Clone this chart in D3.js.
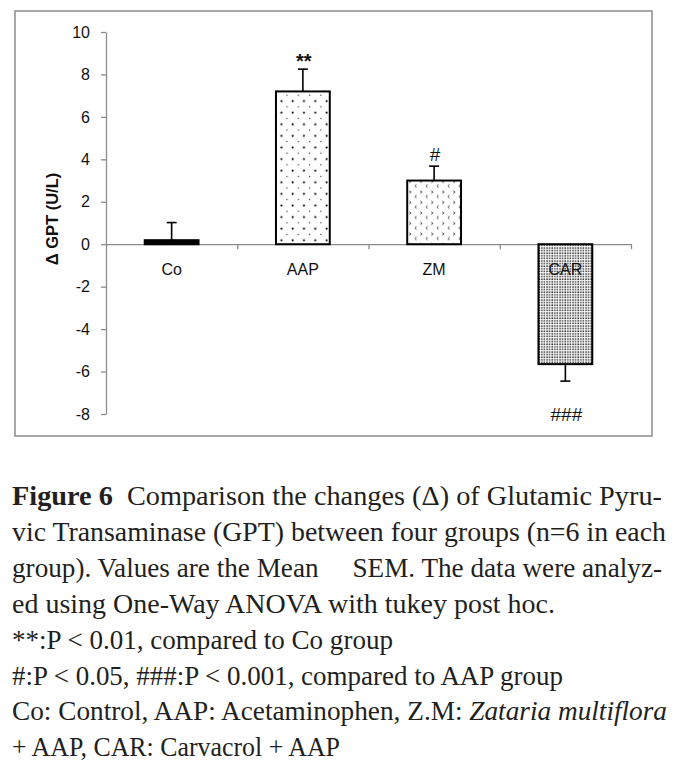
<!DOCTYPE html>
<html><head><meta charset="utf-8">
<script src="https://cdn.jsdelivr.net/npm/d3@7"></script>
<style>body{margin:0;background:#fff}svg{display:block}</style>
</head><body>
<script>
const categories = ["Co", "AAP", "ZM", "CAR"];
const values = [0.19, 7.2, 3.0, -5.65];
const errors = [0.83, 1.05, 0.68, 0.8];
const marks = ["", "**", "#", "###"];
const yTicks = [-8, -6, -4, -2, 0, 2, 4, 6, 8, 10];
const yLabel = "Δ GPT (U/L)";
const captionLines = [
  [["Figure 6", "b"], ["  Comparison the changes (Δ) of Glutamic Pyru-", "n"]],
  [["vic Transaminase (GPT) between four groups (n=6 in each", "n"]],
  [["group). Values are the Mean     SEM. The data were analyz-", "n"]],
  [["ed using One-Way ANOVA with tukey post hoc.", "n"]],
  [["**:P < 0.01, compared to Co group", "n"]],
  [["#:P < 0.05, ###:P < 0.001, compared to AAP group", "n"]],
  [["Co: Control, AAP: Acetaminophen, Z.M: ", "n"], ["Zataria multiflora", "i"]],
  [["+ AAP, CAR: Carvacrol + AAP", "n"]]
];
const captionWidths = [650, 654, 650, 543, 381, 551, 655, 328];

const W = 676, H = 765;
const svg = d3.select("body").append("svg").attr("width", W).attr("height", H);
svg.append("rect").attr("width", W).attr("height", H).attr("fill", "#fff");

const defs = svg.append("defs");
const p0 = defs.append("pattern").attr("id", "pCo").attr("patternUnits", "userSpaceOnUse")
  .attr("width", 11.3).attr("height", 11.6).attr("x", 2).attr("y", 0);
p0.append("rect").attr("width", 11.3).attr("height", 11.6).attr("fill", "#000");
p0.append("circle").attr("cx", 5).attr("cy", 2.5).attr("r", 0.7).attr("fill", "#fff");
p0.append("circle").attr("cx", 5).attr("cy", 8.3).attr("r", 0.7).attr("fill", "#fff");
const p1 = defs.append("pattern").attr("id", "pAAP").attr("patternUnits", "userSpaceOnUse")
  .attr("width", 11.3).attr("height", 11.6).attr("x", 2).attr("y", 0);
p1.append("rect").attr("width", 11.3).attr("height", 11.6).attr("fill", "#fff");
p1.append("circle").attr("cx", 2.5).attr("cy", 2.5).attr("r", 0.75).attr("fill", "#444");
p1.append("circle").attr("cx", 8.2).attr("cy", 8.3).attr("r", 1.05).attr("fill", "#000");
const p2 = defs.append("pattern").attr("id", "pZM").attr("patternUnits", "userSpaceOnUse")
  .attr("width", 11).attr("height", 10.5).attr("x", 1).attr("y", 0);
p2.append("rect").attr("width", 11).attr("height", 10.5).attr("fill", "#fff");
p2.append("path").attr("d", "M1.2,1.8 L3.2,3 L1.2,4.2").attr("fill", "none").attr("stroke", "#333").attr("stroke-width", 0.8);
p2.append("path").attr("d", "M8.7,6.4 A1.2,1.2 0 1 0 8.7,8.7").attr("fill", "none").attr("stroke", "#555").attr("stroke-width", 0.8);
const p3 = defs.append("pattern").attr("id", "pCAR").attr("patternUnits", "userSpaceOnUse")
  .attr("width", 2.6).attr("height", 2.6);
p3.append("rect").attr("width", 2.6).attr("height", 2.6).attr("fill", "#fff");
p3.append("rect").attr("x", 0.3).attr("y", 0.3).attr("width", 1.5).attr("height", 1.5).attr("fill", "#333");
const fills = ["url(#pCo)", "url(#pAAP)", "url(#pZM)", "url(#pCAR)"];

svg.append("rect").attr("x", 15).attr("y", 11).attr("width", 637).attr("height", 425)
  .attr("fill", "none").attr("stroke", "#8c8c8c").attr("stroke-width", 1.5);

const y = d3.scaleLinear().domain([-8, 10]).range([414, 32]);
const x = d3.scaleBand().domain(categories).range([106, 631]).paddingInner(0.59).paddingOuter(0.295);
const xb = d3.scaleLinear().domain([0, categories.length]).range([106, 631]);

const ya = svg.append("g").attr("transform", "translate(106,0)")
  .call(d3.axisLeft(y).tickValues(yTicks).tickSize(5).tickSizeOuter(0).tickPadding(11).tickFormat(d => String(d)));
ya.select(".domain").attr("stroke", "#8c8c8c").attr("stroke-width", 1.3);
ya.selectAll(".tick line").attr("stroke", "#8c8c8c").attr("stroke-width", 1.3);
ya.selectAll(".tick text").attr("font-family", "Liberation Sans, Arial, sans-serif").attr("font-size", 16).attr("fill", "#111");

const xa = svg.append("g").attr("transform", `translate(0,${y(0)})`)
  .call(d3.axisBottom(xb).tickValues([1, 2, 3, 4]).tickSize(5).tickSizeOuter(0).tickFormat(""));
xa.select(".domain").attr("stroke", "#8c8c8c").attr("stroke-width", 1.3);
xa.selectAll(".tick line").attr("stroke", "#8c8c8c").attr("stroke-width", 1.3);

svg.selectAll("rect.bar").data(categories).enter().append("rect").attr("class", "bar")
  .attr("x", d => x(d)).attr("width", x.bandwidth())
  .attr("y", (d, i) => y(Math.max(0, values[i])))
  .attr("height", (d, i) => Math.abs(y(values[i]) - y(0)))
  .attr("fill", (d, i) => fills[i]).attr("stroke", "#000").attr("stroke-width", 2);

const eb = svg.append("g").attr("stroke", "#000").attr("stroke-width", 1.6);
categories.forEach((c, i) => {
  const cx = x(c) + x.bandwidth() / 2;
  const v = values[i], e = v >= 0 ? v + errors[i] : v - errors[i];
  eb.append("line").attr("x1", cx).attr("x2", cx).attr("y1", y(v)).attr("y2", y(e));
  eb.append("line").attr("x1", cx - 5).attr("x2", cx + 5).attr("y1", y(e)).attr("y2", y(e));
});

svg.selectAll("text.cat").data(categories).enter().append("text").attr("class", "cat")
  .attr("x", d => x(d) + x.bandwidth() / 2).attr("y", 275)
  .attr("text-anchor", "middle").attr("font-family", "Liberation Sans, Arial, sans-serif")
  .attr("font-size", 16).attr("fill", "#111").text(d => d);

svg.selectAll("text.mk").data(categories).enter().append("text").attr("class", "mk")
  .attr("x", d => x(d) + x.bandwidth() / 2 + 1)
  .attr("y", (d, i) => values[i] >= 0 ? y(values[i] + errors[i]) - (marks[i] === "**" ? 1 : 5) : y(values[i] - errors[i]) + 40)
  .attr("text-anchor", "middle").attr("font-family", "Liberation Sans, Arial, sans-serif")
  .attr("font-size", (d, i) => marks[i] === "**" ? 20 : 19).attr("font-weight", (d, i) => marks[i] === "**" ? "bold" : "normal")
  .attr("fill", "#111")
  .text((d, i) => marks[i]);

svg.append("text").attr("transform", "translate(58,219) rotate(-90)")
  .attr("text-anchor", "middle").attr("font-family", "Liberation Sans, Arial, sans-serif")
  .attr("font-weight", "bold").attr("font-size", 16.5).attr("fill", "#111").text(yLabel);

captionLines.forEach((parts, i) => {
  const t = svg.append("text").attr("x", 12).attr("y", 505 + i * 35.9)
    .attr("font-family", "Liberation Serif, Times New Roman, serif").attr("font-size", 27.5)
    .attr("fill", "#231f20")
    .attr("textLength", captionWidths[i]).attr("lengthAdjust", "spacingAndGlyphs")
    .style("white-space", "pre");
  parts.forEach(([s, st]) => {
    const ts = t.append("tspan").text(s);
    if (st === "b") ts.attr("font-weight", "bold");
    if (st === "i") ts.attr("font-style", "italic");
  });
});
</script>
</body></html>
